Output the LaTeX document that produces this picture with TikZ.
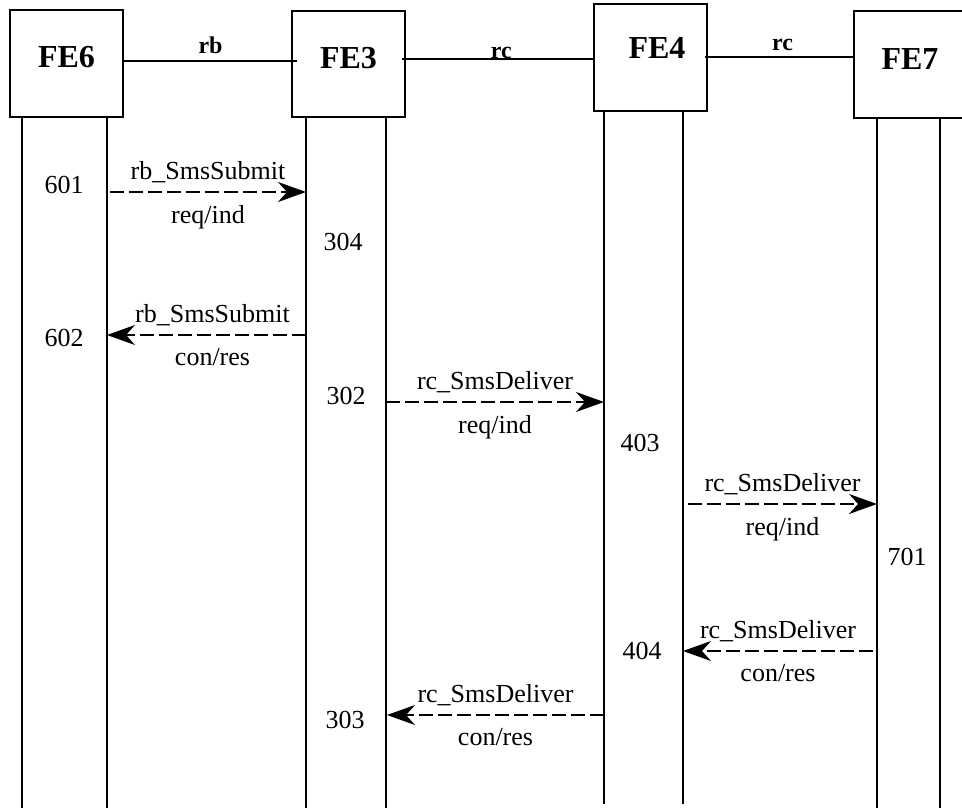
\documentclass[tikz,border=0pt]{standalone}
\usepackage{fontspec}
\setmainfont{Liberation Serif}
\usetikzlibrary{arrows.meta, positioning}

\begin{document}
\begin{tikzpicture}[
    x=0.5pt, y=-0.5pt,
    fe/.style={rectangle, draw, line width=1pt, minimum width=56.5pt, minimum height=53pt, inner sep=0pt, text height=11pt, text depth=6.5pt, font=\fontsize{16}{18}\selectfont\bfseries},
    link/.style={draw, line width=1pt},
    iface/.style={font=\fontsize{12}{14}\selectfont\bfseries},
    life/.style={draw, line width=0.9pt},
    msg/.style={draw, line width=0.8pt, dash pattern=on 7pt off 2.5pt, -{Stealth[length=14pt, width=10pt, inset=4.5pt]}},
    sig/.style={font=\fontsize{13}{15}\selectfont},
    num/.style={font=\fontsize{13}{15}\selectfont}
]

\clip (0,0) rectangle (962,808);

% functional entities
\node [fe] (fe6) at (66.5,63.5) {FE6};
\node [fe] (fe3) at (348.5,64) {FE3};
\node [fe, text depth=10pt] (fe4) at (650,57.5) {\hspace*{7pt}FE4};
\node [fe] (fe7) at (910,64.5) {FE7};

% reference points
\coordinate (rbline) at (0,61);
\coordinate (rcline) at (0,59);
\coordinate (rdline) at (0,57);

\path [link] (fe6.east |- rbline) -- ([xshift=3pt]fe3.west |- rbline) node [midway, above, iface] (rb) {rb};
\path [link] ([xshift=-2pt]fe3.east |- rcline) -- (fe4.west |- rcline) node [midway, anchor=base, xshift=2pt, iface] (rc1) {rc};
\path [link] ([xshift=-1.5pt]fe4.east |- rdline) -- (fe7.west |- rdline) node [midway, above, inner sep=2.5pt, xshift=2pt, iface] (rc2) {rc};

% lifelines
\coordinate (bot) at (0,808);
\coordinate (l6a) at (22,117);
\coordinate (l6b) at (107,117);
\coordinate (l3a) at (306,117);
\coordinate (l3b) at (386,117);
\coordinate (l4a) at (604,110);
\coordinate (l4b) at (683,110);
\coordinate (l7a) at (877,117);
\coordinate (l7b) at (940,117);

\foreach \l in {l6a, l6b, l3a, l3b, l7a, l7b}
    \path [life] (\l) -- (\l |- bot);
\path [life] (l4a) -- ([yshift=2pt]l4a |- bot);
\path [life] (l4b) -- ([yshift=2pt]l4b |- bot);

% messages
\coordinate (m1) at (0,192);
\coordinate (m2) at (0,335);
\coordinate (m3) at (0,402);
\coordinate (m4) at (0,504);
\coordinate (m5) at (0,651);
\coordinate (m6) at (0,715);

\path [msg] ([xshift=1.5pt]l6b |- m1) -- (l3a |- m1)
    node [midway, above=1pt, sig] {rb\_SmsSubmit}
    node [midway, below=3pt, sig] {req/ind};
\path [msg] (l3a |- m2) -- (l6b |- m2)
    node [midway, above=1pt, sig, xshift=3pt] {rb\_SmsSubmit}
    node [midway, below=3pt, sig, xshift=3pt] {con/res};
\path [msg] (l3b |- m3) -- (l4a |- m3)
    node [midway, above=1pt, sig] {rc\_SmsDeliver}
    node [midway, below=3pt, sig] {req/ind};
\path [msg] ([xshift=2.5pt]l4b |- m4) -- (l7a |- m4)
    node [midway, above=1pt, sig] {rc\_SmsDeliver}
    node [midway, below=3pt, sig] {req/ind};
\path [msg] ([xshift=-2pt]l7a |- m5) -- (l4b |- m5)
    node [midway, above=1pt, sig] {rc\_SmsDeliver}
    node [midway, below=3pt, sig] {con/res};
\path [msg] (l4a |- m6) -- ([xshift=0.5pt]l3b |- m6)
    node [midway, above=1pt, sig] {rc\_SmsDeliver}
    node [midway, below=3pt, sig] {con/res};

% state numbers
\node [num] (n601) at (64,185) {601};
\node [num] (n602) at (64,338) {602};
\node [num] (n304) at (343,242) {304};
\node [num] (n302) at (346,396) {302};
\node [num] (n303) at (345,720) {303};
\node [num] (n403) at (640,443) {403};
\node [num] (n404) at (642,651) {404};
\node [num] (n701) at (907,557) {701};

\end{tikzpicture}
\end{document}
